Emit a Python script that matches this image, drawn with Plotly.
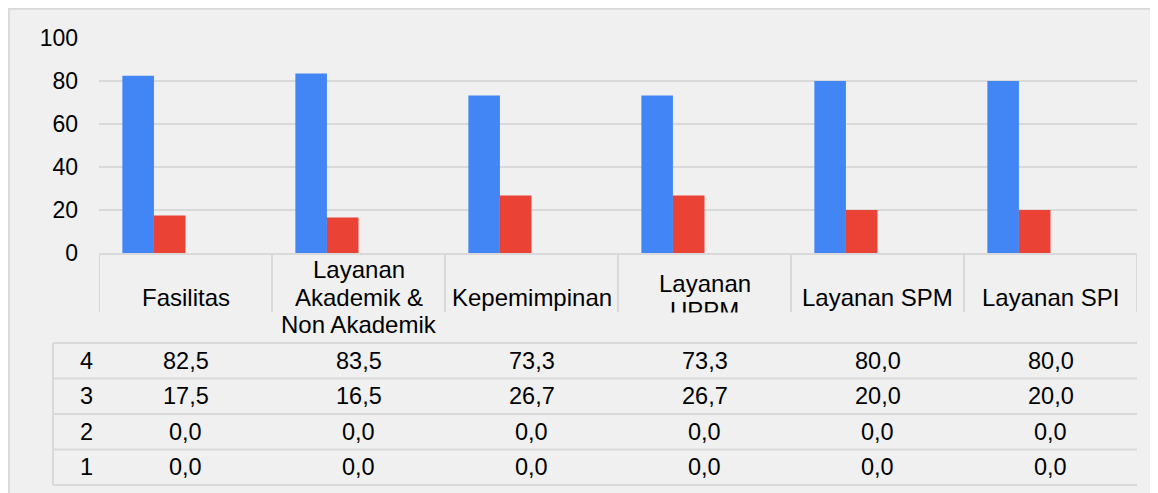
import plotly.graph_objects as go

# ---------------- data ----------------
categories = ["Fasilitas", "Layanan Akademik & Non Akademik", "Kepemimpinan",
              "Layanan UPPM", "Layanan SPM", "Layanan SPI"]
category_labels = ["Fasilitas", "Layanan<br>Akademik &<br>Non Akademik", "Kepemimpinan",
                   "Layanan<br>UPPM", "Layanan SPM", "Layanan SPI"]
series_names = ["4", "3", "2", "1"]
score_4 = [82.5, 83.5, 73.3, 73.3, 80.0, 80.0]
score_3 = [17.5, 16.5, 26.7, 26.7, 20.0, 20.0]
score_2 = [0.0, 0.0, 0.0, 0.0, 0.0, 0.0]
score_1 = [0.0, 0.0, 0.0, 0.0, 0.0, 0.0]
y_ticks = [0, 20, 40, 60, 80, 100]

series_values = [score_4, score_3, score_2, score_1]
series_colors = ["#4285F4", "#EA4335", "#FBBC04", "#34A853"]

# ---------------- layout constants ----------------
OFF = 8                      # page body margin
W, H = 1150, 485
L, R, T, B = 91, 21, 30, 240
PW, PH = W - L - R, H - T - B
FONT = "Arial, 'Liberation Sans', sans-serif"
GRID = "#d9d9d9"
BG = "#f0f0f0"
FS = 24


def px(x):
    """window pixel x -> paper x"""
    return (x - OFF - L) / PW


def py(y):
    """window pixel y -> paper y"""
    return (H - B - (y - OFF)) / PH


fig = go.Figure()
for name, vals, col in zip(series_names, series_values, series_colors):
    fig.add_trace(go.Bar(x=categories, y=vals, name=name, marker_color=col,
                         marker_line_width=0))

shapes = []
annotations = []

# outer grey frame (top and left)
shapes.append(dict(type="line", xref="paper", yref="paper", x0=px(8), x1=px(W + 20),
                   y0=py(8.8), y1=py(8.8), line=dict(color=GRID, width=2)))
shapes.append(dict(type="line", xref="paper", yref="paper", x0=px(8.8), x1=px(8.8),
                   y0=py(8), y1=py(H + 20), line=dict(color=GRID, width=2)))

# category box separators
for i in range(len(categories) + 1):
    shapes.append(dict(type="line", xref="x", yref="paper", x0=i - 0.5, x1=i - 0.5,
                       y0=py(253), y1=py(312), line=dict(color=GRID, width=2)))

# category labels (each line placed separately for tight line spacing)
LABEL_CENTER = 297
LINE_GAP = 27.5
for cat, lab in zip(categories, category_labels):
    lines = lab.split("<br>")
    n = len(lines)
    for k, line in enumerate(lines):
        yc = LABEL_CENTER + (k - (n - 1) / 2) * LINE_GAP
        annotations.append(dict(x=cat, y=py(yc), xref="x", yref="paper", text=line,
                                showarrow=False, xanchor="center", yanchor="middle",
                                font=dict(family=FONT, size=FS, color="black")))
# the second line of "Layanan UPPM" overflows its cell and is cut off in the original
annotations.append(dict(x=categories[3], y=py(312), xref="x", yref="paper", text=" ",
                        showarrow=False, xanchor="center", yanchor="top",
                        width=150, height=24, bgcolor=BG, borderpad=0))

# data table
row_lines = [343, 378.5, 414, 449.5, 485]
for yl in row_lines:
    shapes.append(dict(type="line", xref="paper", yref="paper", x0=px(53), x1=1,
                       y0=py(yl), y1=py(yl), line=dict(color=GRID, width=2)))
shapes.append(dict(type="line", xref="paper", yref="paper", x0=px(53), x1=px(53),
                   y0=py(row_lines[0]), y1=py(row_lines[-1]), line=dict(color=GRID, width=2)))

for r, (name, vals) in enumerate(zip(series_names, series_values)):
    yc = py((row_lines[r] + row_lines[r + 1]) / 2)
    annotations.append(dict(x=px(86), y=yc, xref="paper", yref="paper", text=name,
                            showarrow=False, xanchor="center", yanchor="middle",
                            font=dict(family=FONT, size=FS - 0.5, color="black")))
    for cat, v in zip(categories, vals):
        annotations.append(dict(x=cat, y=yc, xref="x", yref="paper",
                                text=f"{v:.1f}".replace(".", ","),
                                showarrow=False, xanchor="center", yanchor="middle",
                                font=dict(family=FONT, size=FS - 0.5, color="black")))

fig.update_layout(
    width=W, height=H,
    margin=dict(l=L, r=R, t=T, b=B, pad=0),
    paper_bgcolor=BG, plot_bgcolor=BG,
    barmode="group", bargap=0.27, bargroupgap=0,
    showlegend=False,
    shapes=shapes, annotations=annotations,
    font=dict(family=FONT, color="black"),
)
fig.update_xaxes(type="category", range=[-0.5, len(categories) - 0.5],
                 showticklabels=False, showgrid=False, ticks="",
                 showline=True, linecolor=GRID, linewidth=2, zeroline=False)
fig.update_yaxes(range=[0, 100], tickvals=y_ticks, showgrid=True, gridcolor=GRID,
                 gridwidth=2, zeroline=False, showline=False, ticks="",
                 ticklabelstandoff=20, tickfont=dict(family=FONT, size=23, color="black"))

fig.write_html("out.html")
